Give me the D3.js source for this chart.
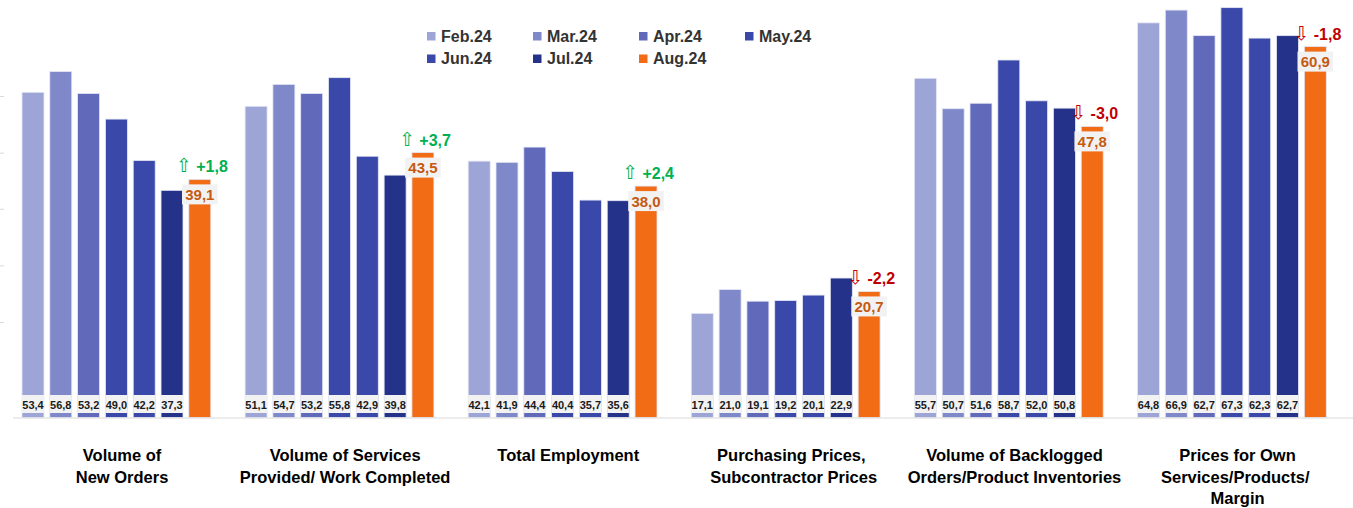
<!DOCTYPE html>
<html>
<head>
<meta charset="utf-8">
<script src="https://cdn.jsdelivr.net/npm/d3@7"></script>
<style>
  body { margin: 0; background: #fff; }
  svg { display: block; font-family: "Liberation Sans", Arial, sans-serif; }
</style>
</head>
<body>
<div id="chart"></div>
<script>
// categories (one label line per entry)
var categories = ["orders", "services", "employment", "purchasing", "backlog", "prices"];
var categoryLines = [
  ["Volume of", "New Orders"],
  ["Volume of Services", "Provided/ Work Completed"],
  ["Total Employment"],
  ["Purchasing Prices,", "\u2028Subcontractor Prices"],
  ["Volume of Backlogged", "Orders/Product Inventories"],
  ["Prices for Own", "Services/Products/\u2028", "Margin"]
];

var series = ["Feb.24", "Mar.24", "Apr.24", "May.24", "Jun.24", "Jul.24", "Aug.24"];
var colors = ["#9da5d6", "#7f88c9", "#6169bb", "#3a49a9", "#3a49a9", "#253289", "#f26b15"];

// values per month
var feb24 = [53.4, 51.1, 42.1, 17.1, 55.7, 64.8];
var mar24 = [56.8, 54.7, 41.9, 21.0, 50.7, 66.9];
var apr24 = [53.2, 53.2, 44.4, 19.1, 51.6, 62.7];
var may24 = [49.0, 55.8, 40.4, 19.2, 58.7, 67.3];
var jun24 = [42.2, 42.9, 35.7, 20.1, 52.0, 62.3];
var jul24 = [37.3, 39.8, 35.6, 22.9, 50.8, 62.7];
var aug24 = [39.1, 43.5, 38.0, 20.7, 47.8, 60.9];
var seriesValues = [feb24, mar24, apr24, may24, jun24, jul24, aug24];

// faint tick marks on the left edge
var yTicks = [15.6, 24.9, 34.2, 43.4, 52.7];

var width = 1353, height = 508;

var svg = d3.select('#chart').append('svg')
  .attr('width', width)
  .attr('height', height);

var y = d3.scaleLinear().domain([0, 70]).range([417.5, -8.8]);

var x0 = d3.scaleBand().domain(categories).range([10.5, 10.5 + 223.1 * 6]);
var x1 = d3.scaleBand().domain(series).range([11.5, 200.3]).paddingInner(0.21);

var fmt = function (v) { return d3.format(".1f")(v).replace(".", ","); };

// flatten into one row per bar
var data = [];
categories.forEach(function (c, ci) {
  series.forEach(function (s, si) {
    data.push({ cat: c, ci: ci, s: s, si: si, v: seriesValues[si][ci] });
  });
});

// left tick marks
svg.selectAll('line.tick')
  .data(yTicks)
  .enter().append('line')
  .attr('class', 'tick')
  .attr('x1', 0).attr('x2', 4)
  .attr('y1', function (d) { return y(d); })
  .attr('y2', function (d) { return y(d); })
  .attr('stroke', '#d9d9d9');

// bars
svg.selectAll('rect.bar')
  .data(data)
  .enter().append('rect')
  .attr('class', 'bar')
  .attr('x', function (d) { return x0(d.cat) + x1(d.s); })
  .attr('y', function (d) { return y(d.v); })
  .attr('width', x1.bandwidth())
  .attr('height', function (d) { return y(0) - y(d.v); })
  .attr('fill', function (d) { return colors[d.si]; })
  .attr('stroke', '#e3e6f4')
  .attr('stroke-width', 0.8);

// baseline
svg.append('line')
  .attr('x1', 13).attr('x2', width)
  .attr('y1', y(0) + 0.5).attr('y2', y(0) + 0.5)
  .attr('stroke', '#d9d9d9')
  .attr('stroke-width', 1.2);

// small value boxes at bar bottoms (all months but the last)
var older = data.filter(function (d) { return d.si < series.length - 1; });
svg.selectAll('rect.vbox')
  .data(older)
  .enter().append('rect')
  .attr('class', 'vbox')
  .attr('x', function (d) { return x0(d.cat) + x1(d.s); })
  .attr('y', y(0) - 22.5)
  .attr('width', x1.bandwidth())
  .attr('height', 18)
  .attr('fill', '#f2f2f2');

svg.selectAll('text.vlab')
  .data(older)
  .enter().append('text')
  .attr('class', 'vlab')
  .attr('x', function (d) { return x0(d.cat) + x1(d.s) + x1.bandwidth() / 2; })
  .attr('y', y(0) - 8.5)
  .attr('text-anchor', 'middle')
  .attr('font-size', 11)
  .attr('font-weight', 'bold')
  .attr('fill', '#1a1a1a')
  .text(function (d) { return fmt(d.v); });

// latest month: big label + change vs previous month
var latest = data.filter(function (d) { return d.si === series.length - 1; });
latest.forEach(function (d) { d.diff = d.v - seriesValues[series.length - 2][d.ci]; });

var cx = function (d) { return x0(d.cat) + x1(d.s) + x1.bandwidth() / 2; };

svg.selectAll('rect.lbox')
  .data(latest)
  .enter().append('rect')
  .attr('class', 'lbox')
  .attr('x', function (d) { return cx(d) - 17.8; })
  .attr('y', function (d) { return y(d.v) + 5; })
  .attr('width', 35.6)
  .attr('height', 20)
  .attr('fill', '#f2f2f2');

svg.selectAll('text.llab')
  .data(latest)
  .enter().append('text')
  .attr('class', 'llab')
  .attr('x', cx)
  .attr('y', function (d) { return y(d.v) + 20.5; })
  .attr('text-anchor', 'middle')
  .attr('font-size', 15)
  .attr('font-weight', 'bold')
  .attr('fill', '#c55a11')
  .text(function (d) { return fmt(d.v); });

var chg = svg.selectAll('text.chg')
  .data(latest)
  .enter().append('text')
  .attr('class', 'chg')
  .attr('x', function (d) { return cx(d) + 2; })
  .attr('y', function (d) { return y(d.v) - 7; })
  .attr('text-anchor', 'middle')
  .attr('font-size', 16)
  .attr('font-weight', 'bold')
  .attr('fill', function (d) { return d.diff >= 0 ? '#00b050' : '#c00000'; });

chg.append('tspan')
  .attr('font-family', '"DejaVu Sans", sans-serif')
  .attr('font-weight', 'normal')
  .attr('font-size', 19)
  .text(function (d) { return d.diff >= 0 ? '\u21e7' : '\u21e9'; });
chg.append('tspan')
  .text(function (d) { return ' ' + (d.diff >= 0 ? '+' : '-') + fmt(Math.abs(d.diff)); });

// category labels
var cat = svg.selectAll('text.cat')
  .data(categories)
  .enter().append('text')
  .attr('class', 'cat')
  .attr('x', function (d) { return x0(d) + x0.bandwidth() / 2; })
  .attr('y', 461)
  .attr('text-anchor', 'middle')
  .attr('font-size', 16.5)
  .attr('font-weight', 'bold')
  .attr('fill', '#000');

cat.selectAll('tspan')
  .data(function (d, i) { return categoryLines[i]; })
  .enter().append('tspan')
  .attr('x', function () { return d3.select(this.parentNode).attr('x'); })
  .attr('dy', function (d, i) { return i === 0 ? 0 : 21.5; })
  .text(function (d) { return d; });

// legend (4 columns, 2 rows)
var legend = svg.selectAll('g.leg')
  .data(series)
  .enter().append('g')
  .attr('class', 'leg')
  .attr('transform', function (d, i) {
    return 'translate(' + (427 + (i % 4) * 106) + ',' + (36 + Math.floor(i / 4) * 22.5) + ')';
  });

legend.append('rect')
  .attr('x', 0).attr('y', -4)
  .attr('width', 8.5).attr('height', 8.5)
  .attr('fill', function (d, i) { return colors[i]; });

legend.append('text')
  .attr('x', 14).attr('y', 5.5)
  .attr('font-size', 16)
  .attr('font-weight', 'bold')
  .attr('fill', '#333')
  .text(function (d) { return d; });
</script>
</body>
</html>
